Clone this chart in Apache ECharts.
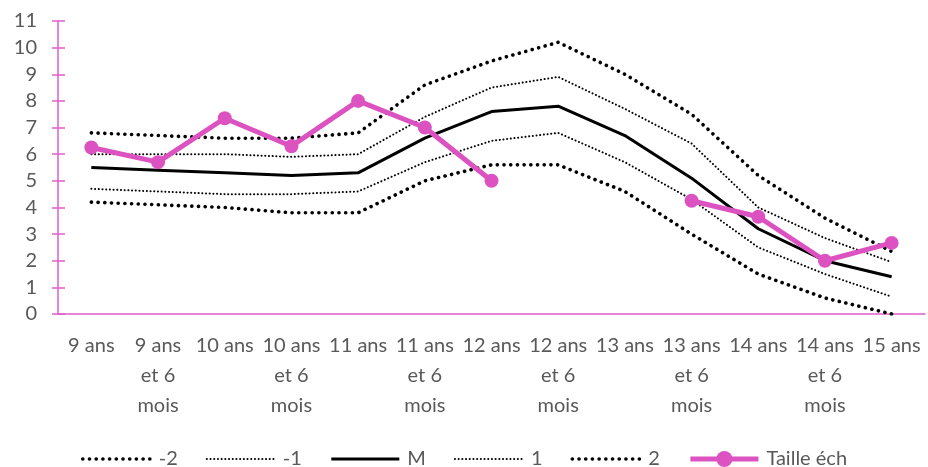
<!DOCTYPE html>
<html>
<head>
<meta charset="utf-8">
<script src="https://cdn.jsdelivr.net/npm/echarts@6/dist/echarts.min.js"></script>
<style>
  html, body { margin: 0; padding: 0; background: #fff; }
  #chart { width: 928px; height: 467px; }
</style>
</head>
<body>
<div id="chart"></div>
<script>
// Age categories along the horizontal axis
const categories = [
  '9 ans', '9 ans\net 6\nmois', '10 ans', '10 ans\net 6\nmois',
  '11 ans', '11 ans\net 6\nmois', '12 ans', '12 ans\net 6\nmois',
  '13 ans', '13 ans\net 6\nmois', '14 ans', '14 ans\net 6\nmois', '15 ans'
];

// Reference curves (mean and ±1 / ±2 deviations)
const minus2 = [4.2, 4.1, 4.0, 3.8, 3.8, 5.0, 5.6, 5.6, 4.6, 3.0, 1.5, 0.6, 0.0];
const minus1 = [4.7, 4.6, 4.5, 4.5, 4.6, 5.7, 6.5, 6.8, 5.7, 4.3, 2.5, 1.5, 0.65];
const mean   = [5.5, 5.4, 5.3, 5.2, 5.3, 6.6, 7.6, 7.8, 6.7, 5.1, 3.2, 2.0, 1.4];
const plus1  = [6.0, 6.0, 6.0, 5.9, 6.0, 7.4, 8.5, 8.9, 7.7, 6.4, 4.0, 2.85, 1.95];
const plus2  = [6.8, 6.7, 6.6, 6.6, 6.8, 8.6, 9.5, 10.2, 9.0, 7.5, 5.2, 3.6, 2.35];

// Measured sample
const taille = [6.25, 5.7, 7.35, 6.3, 8.0, 7.0, 5.0, null, null, 4.25, 3.65, 2.0, 2.67];

// Legend entries, in display order
const legendNames = ['-2', '-1', 'M', '1', '2', 'Taille éch'];

// Y axis range
const yMin = 0, yMax = 11, yStep = 1;

const pink = '#DD52C1';
const axisPink = '#E15DCA';
const textGrey = '#595959';
const font = 'Lato, "DejaVu Sans Condensed", sans-serif';

const bigDots = { color: '#000', width: 3.6, type: [0.1, 6.6], cap: 'round' };
const smallDots = { color: '#000', width: 2, type: [0.1, 3.6], cap: 'round' };
const solidLine = { color: '#000', width: 3 };
const styleByName = { '-2': bigDots, '-1': smallDots, 'M': solidLine, '1': smallDots, '2': bigDots };

function refLine(name, data) {
  return {
    name, type: 'line', data,
    symbol: 'none', showSymbol: false,
    lineStyle: styleByName[name], itemStyle: { color: '#000' },
    emphasis: { disabled: true }, silent: true, z: 2
  };
}

const tickStyle = { color: axisPink, width: 1.5 };

const chart = echarts.init(document.getElementById('chart'));
chart.setOption({
  animation: false,
  textStyle: { fontFamily: font },
  grid: { left: 58, right: 3, top: 21, bottom: 153, containLabel: false },
  legend: {
    top: 444,
    left: 'center',
    itemWidth: 68,
    itemHeight: 20,
    itemGap: 28,
    textStyle: { color: textGrey, fontSize: 20, fontFamily: font, padding: [0, 0, 0, 3] },
    // reference curves show only their line in the legend, no marker
    data: legendNames.map(n => n === 'Taille éch'
      ? { name: n, lineStyle: { width: 5 } }
      : { name: n, lineStyle: styleByName[n], itemStyle: { color: 'rgba(0,0,0,0)', borderWidth: 0 } })
  },
  xAxis: [{
    type: 'category',
    data: categories,
    boundaryGap: true,
    axisLine: { lineStyle: { color: axisPink, width: 1.5 } },
    axisTick: { alignWithLabel: true, length: 6, lineStyle: tickStyle },
    axisLabel: {
      interval: 0, color: textGrey, fontSize: 20, lineHeight: 30, margin: 17,
      fontFamily: font
    }
  }, {
    // inner half of the crossing tick marks
    type: 'category', data: categories, position: 'bottom', boundaryGap: true,
    axisLine: { show: false },
    axisTick: { alignWithLabel: true, inside: true, length: 5, lineStyle: tickStyle },
    axisLabel: { show: false }
  }],
  yAxis: [{
    type: 'value',
    min: yMin, max: yMax, interval: yStep,
    splitLine: { show: false },
    axisLine: { show: true, lineStyle: { color: axisPink, width: 1.5 } },
    axisTick: { show: true, length: 6, lineStyle: tickStyle },
    axisLabel: { color: textGrey, fontSize: 20, margin: 21, fontFamily: font }
  }, {
    type: 'value', position: 'left',
    min: yMin, max: yMax, interval: yStep,
    splitLine: { show: false },
    axisLine: { show: false },
    axisTick: { show: true, inside: true, length: 7, lineStyle: tickStyle },
    axisLabel: { show: false }
  }],
  series: [
    refLine('-2', minus2),
    refLine('-1', minus1),
    refLine('M', mean),
    refLine('1', plus1),
    refLine('2', plus2),
    {
      name: 'Taille éch', type: 'line', data: taille,
      connectNulls: false,
      symbol: 'circle', symbolSize: 14, showSymbol: true,
      lineStyle: { color: pink, width: 5 },
      itemStyle: { color: pink },
      emphasis: { disabled: true }, z: 5
    }
  ]
});
</script>
</body>
</html>
